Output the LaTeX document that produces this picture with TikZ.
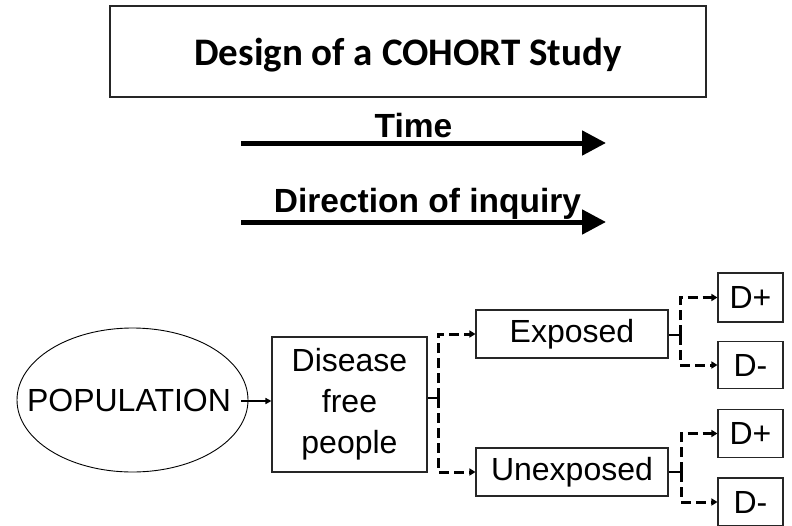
\documentclass[tikz,border=0pt]{standalone}
\usepackage{fontspec}
\setmainfont{Liberation Sans}
\newfontfamily\titlefont{Carlito}
\usetikzlibrary{arrows.meta,shapes.geometric}
\begin{document}
\begin{tikzpicture}[x=1pt,y=-1pt,
  box/.style={draw=black!85,line width=1.1pt,inner sep=0pt,
    font=\fontsize{32}{41}\selectfont,align=center},
  bigarrow/.style={line width=5pt,-{Triangle[length=24pt,width=24pt]}},
  link/.style={line width=3pt,dash pattern=on 10pt off 5pt,
    -{Triangle[length=6pt,width=7pt]}},
  stub/.style={line width=2.6pt},
  axislabel/.style={anchor=base,inner sep=0pt,
    font=\fontsize{33.5}{40}\selectfont\bfseries}]
\useasboundingbox (0,0) rectangle (792,525);

% heading
\node[draw=black!85,line width=1.1pt,minimum width=596pt,minimum height=91pt,
  inner sep=0pt,text height=27pt,text depth=0pt,
  font=\titlefont\fontsize{39}{46}\selectfont\bfseries]
  (title) at (408,51.5) {Design of a COHORT Study};

% time and direction of inquiry
\node[axislabel] (timelbl) at (413.5,137) {Time};
\coordinate (t0) at (241,143);
\coordinate (t1) at (606,143);
\draw[bigarrow] (t0) -- (t1);
\node[axislabel] (dirlbl) at (427.5,212) {Direction of inquiry};
\coordinate (d0) at (241,222);
\coordinate (d1) at (606,222);
\draw[bigarrow] (d0) -- (d1);

% cohort tree
\node[ellipse,draw=black,line width=0.9pt,minimum width=231pt,minimum height=144pt,
  inner sep=0pt,font=\fontsize{32}{41}\selectfont] (pop) at (132.5,400)
  {\makebox[0pt]{\hspace*{-7pt}POPULATION}};
\node[box,minimum width=155pt,minimum height=135pt] (dis) at (349.5,404.5)
  {Disease\\free\\people};
\node[box,minimum width=192pt,minimum height=48pt] (exp) at (572,334) {Exposed};
\node[box,minimum width=192pt,minimum height=48pt] (unexp) at (572,472) {Unexposed};
\node[box,minimum width=65pt,minimum height=49pt] (ep) at (750.5,297.5) {D+};
\node[box,minimum width=65pt,minimum height=47pt] (em) at (750.5,365) {D-};
\node[box,minimum width=65pt,minimum height=48pt] (up) at (750.5,433.5) {D+};
\node[box,minimum width=65pt,minimum height=48pt] (um) at (750.5,502) {D-};

\coordinate (pstart) at (241,401);
\draw[line width=1.6pt,-{Triangle[length=6pt,width=6pt]}] (pstart) -- (pstart -| dis.west);

% branches
\coordinate (j1) at (438,398);
\draw[stub] (j1 -| dis.east) -- (j1);
\draw[link] (j1) |- (exp.west);
\draw[link] (j1) |- (unexp.west);

\coordinate (j2) at (680,335);
\draw[stub] (j2 -| exp.east) -- (j2);
\draw[link] (j2) |- (ep.west);
\draw[link] (j2) |- (em.west);

\coordinate (j3) at (681,472);
\draw[stub] (j3 -| unexp.east) -- (j3);
\draw[link] (j3) |- (up.west);
\draw[link] (j3) |- (um.west);
\end{tikzpicture}
\end{document}
